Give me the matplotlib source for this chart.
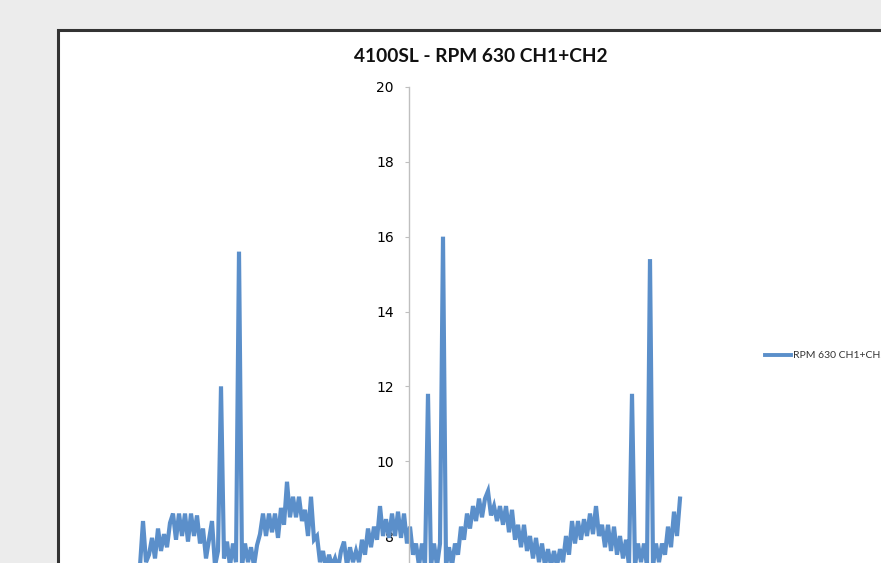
import numpy as np
import matplotlib.pyplot as plt
from matplotlib.patches import Rectangle

# series, left to right, evenly spaced samples
title = "4100SL - RPM 630 CH1+CH2"
series_name = "RPM 630 CH1+CH2"
values = [
    7.2, 8.4, 7.3, 7.5, 7.95, 7.4, 8.2, 7.6, 8.05, 7.7,
    8.35, 8.6, 7.9, 8.6, 8.0, 8.6, 7.85, 8.6, 8.0, 8.55,
    7.8, 8.2, 7.4, 7.9, 8.4, 7.2, 7.6, 12.0, 7.4, 7.85,
    7.2, 7.8, 7.3, 15.6, 7.2, 7.8, 7.3, 7.7, 7.2, 7.75,
    8.05, 8.6, 8.0, 8.6, 8.1, 8.6, 7.95, 8.75, 8.3, 9.45,
    8.5, 9.05, 8.5, 9.05, 8.4, 8.7, 8.0, 9.05, 7.9, 8.0,
    7.3, 7.6, 7.1, 7.5, 7.2, 7.4, 7.1, 7.6, 7.85, 7.2,
    7.7, 7.3, 7.6, 7.3, 7.9, 7.5, 8.2, 7.7, 8.25, 7.9,
    8.8, 8.0, 8.45, 7.95, 8.6, 8.0, 8.65, 7.95, 8.6, 7.8,
    8.25, 7.5, 7.8, 7.2, 7.8, 7.2, 11.8, 7.2, 7.8, 7.2,
    7.8, 16.0, 7.2, 7.7, 7.2, 7.8, 7.5, 8.25, 7.9, 8.6,
    8.2, 8.8, 8.4, 9.0, 8.5, 9.0, 9.2, 8.55, 8.8, 8.4,
    8.8, 8.3, 8.8, 8.1, 8.7, 7.9, 8.3, 7.7, 8.3, 7.6,
    8.0, 7.4, 7.95, 7.3, 7.8, 7.2, 7.65, 7.2, 7.6, 7.2,
    7.65, 7.3, 8.0, 7.5, 8.4, 7.8, 8.4, 7.9, 8.45, 8.0,
    8.6, 8.05, 8.8, 8.0, 8.3, 7.7, 8.3, 7.6, 8.25, 7.5,
    8.0, 7.4, 7.9, 7.2, 11.8, 7.2, 7.8, 7.3, 7.8, 7.2,
    15.4, 7.2, 7.8, 7.3, 7.8, 7.5, 8.25, 7.7, 8.65, 8.0,
    9.0,
]
yticks = [8, 10, 12, 14, 16, 18, 20]

blue = "#5b8fca"
x = np.linspace(-269, 271, len(values))

W, H = 881, 563
fig = plt.figure(figsize=(W / 100, H / 100), dpi=100)
fig.patch.set_facecolor("#ececec")

# white chart frame, runs off the right and bottom edges
fig.patches.append(Rectangle((58 / W, -0.2), 1.0, (H - 30) / H + 0.2,
                             transform=fig.transFigure, facecolor="white",
                             edgecolor="#333333", linewidth=2.2, zorder=-1))

ax = fig.add_axes([130 / W, 0, 570 / W, (H - 87) / H])
ax.set_zorder(1)
ax.set_facecolor("none")
ax.plot(x, values, color=blue, linewidth=3.0, solid_joinstyle="miter", clip_on=False)

ax.set_xlim(130 - 409, 700 - 409)
ax.set_ylim(8 - 27 / 37.42, 20)
ax.set_yticks(yticks)
ax.set_yticklabels([str(t) for t in yticks], fontsize=7.5, color="#333333", family="Lato")
ax.tick_params(axis="y", length=3, width=0.8, color="#bfbfbf", pad=8)
ax.set_xticks([])
for s in ["top", "right", "bottom"]:
    ax.spines[s].set_visible(False)
ax.spines["left"].set_position(("data", 0))
ax.spines["left"].set_color("#bfbfbf")
ax.spines["left"].set_linewidth(1.0)

fig.text(481 / W, 1 - 57 / H, title, ha="center", va="center",
         fontsize=13.8, fontweight="bold", family="Lato", color="#111111")

# legend entry, cut by the right edge like the reference
fig.add_artist(plt.Line2D([765 / W, 791 / W], [1 - 355 / H, 1 - 355 / H],
                          transform=fig.transFigure, color=blue, linewidth=2.8))
fig.text(793 / W, 1 - 355 / H, series_name, ha="left", va="center",
         fontsize=7.5, family="Lato", color="#333333")

fig.savefig("out.png", dpi=100, facecolor=fig.get_facecolor())
